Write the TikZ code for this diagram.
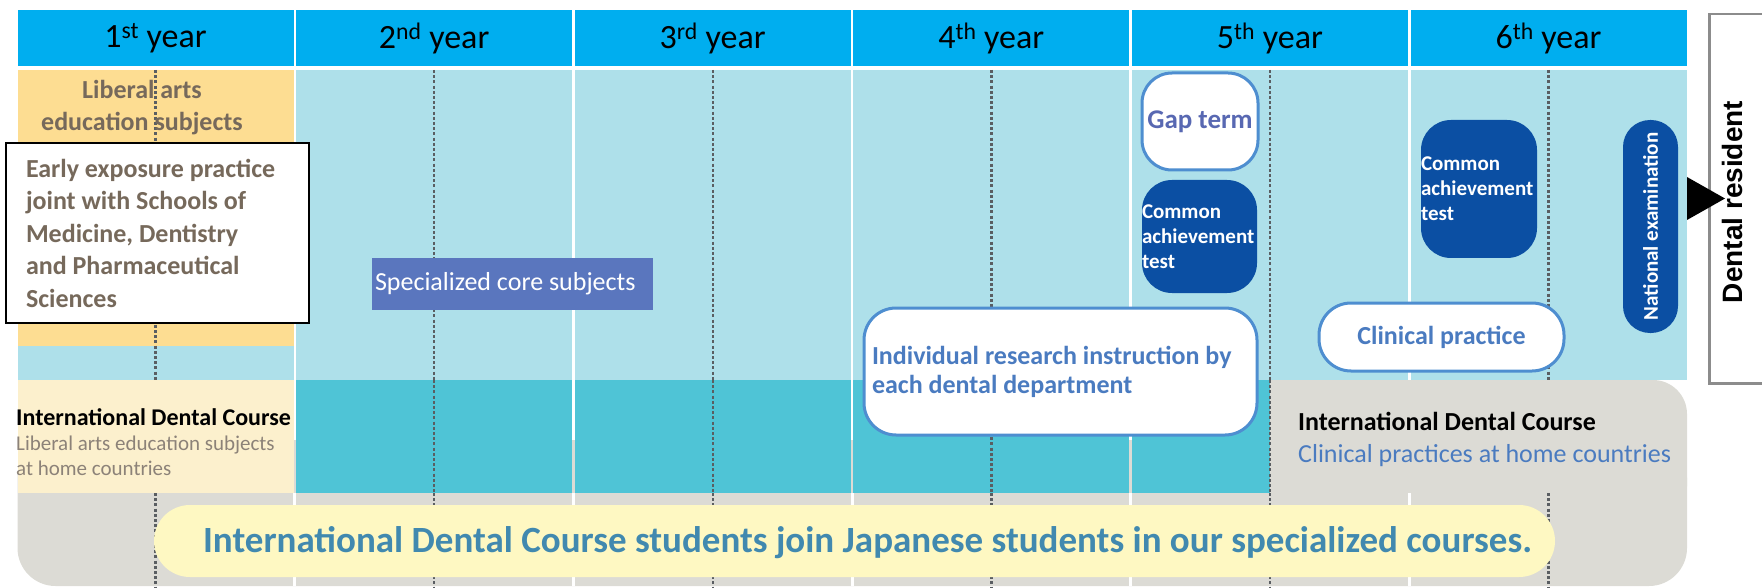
\documentclass[tikz,border=0pt]{standalone}
\usepackage{fontspec}
\setmainfont{Carlito}
\newfontfamily\residentfont{Liberation Sans}

\definecolor{hdrblue}{HTML}{00AEEF}
\definecolor{paleblue}{HTML}{AEE0EA}
\definecolor{rowteal}{HTML}{4FC4D6}
\definecolor{sand}{HTML}{FDDD92}
\definecolor{cream}{HTML}{FCF0CD}
\definecolor{stone}{HTML}{DCDBD5}
\definecolor{banneryellow}{HTML}{FEF8C2}
\definecolor{bannertext}{HTML}{4189AF}
\definecolor{browntext}{HTML}{76695B}
\definecolor{greytext}{HTML}{8C8278}
\definecolor{coreblue}{HTML}{5A76BE}
\definecolor{examnavy}{HTML}{0B4FA3}
\definecolor{lineblue}{HTML}{4E8ED0}
\definecolor{textblue}{HTML}{4A7BC0}
\definecolor{gaptext}{HTML}{5868B2}
\definecolor{dotgrey}{HTML}{5A5E62}
\definecolor{boxgrey}{HTML}{8C8C8C}

\tikzset{
  hdr/.style={fill=hdrblue, minimum width=276, minimum height=56, inner sep=0,
    font=\fontsize{34}{40}\selectfont},
  gridline/.style={draw=dotgrey, line width=2.4, dash pattern=on 3pt off 2.2pt},
  whitebox/.style={fill=white, draw=lineblue, line width=3, rounded corners=30,
    text=textblue, font=\bfseries\fontsize{26}{29}\selectfont},
  navybox/.style={fill=examnavy, rounded corners=30, text=white, inner sep=0,
    font=\bfseries\fontsize{21}{25}\selectfont},
  plaintext/.style={inner sep=0, anchor=base west},
}

\begin{document}
\begin{tikzpicture}[x=1pt, y=-1pt]
\useasboundingbox (0,0) rectangle (1762,588);

% year headers and light blue columns
\foreach \n/\sfx [count=\i from 0] in {1/st,2/nd,3/rd,4/th,5/th,6/th}{
  \pgfmathsetmacro\cx{155.5+278.6*\i}
  \node[hdr] (year\n) at (\cx,38) {\n\textsuperscript{\sfx} year};
  \fill[paleblue] ({\cx-138},70) rectangle ({\cx+138},380);
}
\fill[sand] (17.5,70) rectangle (293.5,346);

% grey band of the International Dental Course
\fill[stone, rounded corners=38] (17.5,440) rectangle (1687,586);
\fill[stone, rounded corners=34] (1230,380) rectangle (1687,520);

% second row
\fill[cream] (17.5,380) rectangle (293.5,493);
\foreach \i in {1,2,3}{
  \pgfmathsetmacro\cx{155.5+278.6*\i}
  \fill[rowteal] ({\cx-138},380) rectangle ({\cx+138},493);
}
\fill[rowteal] (1131.9,380) rectangle (1270,493);
\foreach \i in {0,...,4}
  \draw[white, line width=3] ({155.5+278.6*\i+139.3},493) -- ++(0,93);

% dotted half-year lines
\foreach \i in {0,...,5}{
  \pgfmathsetmacro\cx{155.5+278.6*\i}
  \draw[gridline] (\cx,70) -- (\cx,380);
  \draw[gridline] (\cx,493) -- (\cx,588);
}
\foreach \i in {1,...,4}{
  \pgfmathsetmacro\cx{155.5+278.6*\i}
  \draw[gridline] (\cx,380) -- (\cx,493);
}

% first year
\node[align=center, text=browntext, font=\bfseries\fontsize{26}{32}\selectfont]
  (liberal) at (142,108) {Liberal arts\\education subjects};
\node[draw=black, line width=2, fill=white, minimum width=303, minimum height=180,
  text width=263, inner xsep=20, align=flush left, text=browntext,
  font=\bfseries\fontsize{26}{32.5}\selectfont] (early) at (157.5,233)
  {Early exposure practice\\joint with Schools of\\Medicine, Dentistry\\and Pharmaceutical\\Sciences};
\node[plaintext, font=\bfseries\fontsize{24}{28}\selectfont] (idcleft) at (16,425)
  {International Dental Course};
\node[plaintext, text=greytext, font=\fontsize{21}{25}\selectfont] (homeliberal) at (16,450)
  {Liberal arts education subjects};
\node[plaintext, text=greytext, font=\fontsize{21}{25}\selectfont] (homecountry) at (16,475)
  {at home countries};

% specialized years
\node[fill=coreblue, minimum width=281, minimum height=52, text width=275, inner xsep=3,
  align=flush left, text=white, font=\fontsize{26}{31}\selectfont] (core) at (512.5,284)
  {Specialized core subjects};
\node[whitebox, minimum width=393, minimum height=127, text width=377, inner xsep=8,
  align=flush left, rounded corners=32] (research) at (1060.5,371.5)
  {Individual research instruction by\\each dental department};

% fifth year
\node[whitebox, minimum width=116, minimum height=97, text=gaptext,
  font=\bfseries\fontsize{27}{32}\selectfont] (gap) at (1200,121.5) {Gap term};
\node[navybox, minimum width=115, minimum height=113, text width=115, align=flush left]
  (achieve5) at (1199.5,236.5) {Common\\achievement\\test};

% sixth year
\node[navybox, minimum width=116, minimum height=138, text width=116, align=flush left]
  (achieve6) at (1479,189) {Common\\achievement\\test};
\node[whitebox, minimum width=245, minimum height=68, rounded corners=32]
  (clinical) at (1441.5,337) {Clinical practice};
\node[navybox, rounded corners=27, rotate=90, minimum width=213, minimum height=55,
  font=\bfseries\fontsize{21}{25}\selectfont] (exam) at (1650.5,226.5) {National examination};
\node[plaintext, font=\bfseries\fontsize{26}{30}\selectfont] (idcright) at (1298,430)
  {International Dental Course};
\node[plaintext, text=textblue, font=\fontsize{26}{30}\selectfont] (homeclinic) at (1298,462)
  {Clinical practices at home countries};

% banner
\node[fill=banneryellow, rounded corners=36, minimum width=1401, minimum height=72,
  inner sep=0] (banner) at (854.5,541) {};
\node[text=bannertext, font=\bfseries\fontsize{37}{44}\selectfont] (bannertext)
  at ([xshift=13,yshift=-2]banner.center)
  {International Dental Course students join Japanese students in our specialized courses.};

% after graduation
\node[draw=boxgrey, line width=2.5, fill=white, minimum width=70, minimum height=369,
  anchor=north west, inner sep=0] (residentbox) at (1708,13) {};
\node[rotate=90, font=\residentfont\bfseries\fontsize{28}{34}\selectfont] (resident)
  at (1732,202) {Dental resident};
\fill[black] (1687,177) -- (1725,198.5) -- (1687,220) -- cycle;
\end{tikzpicture}
\end{document}
